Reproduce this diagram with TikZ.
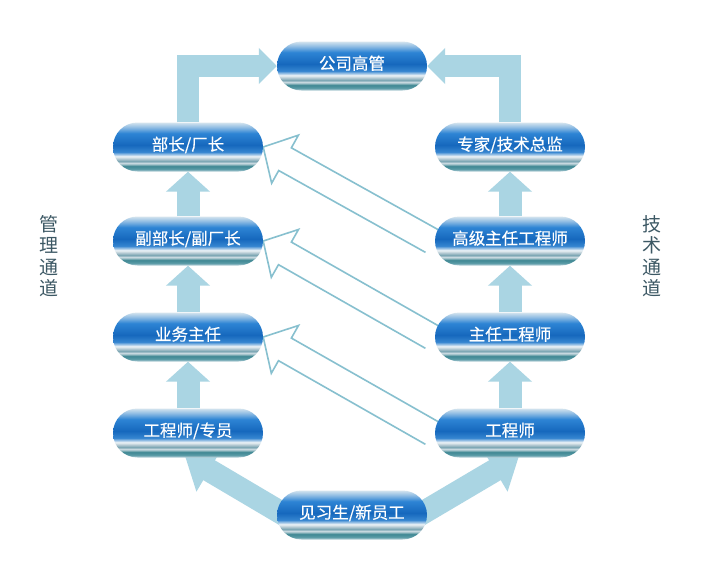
\documentclass[tikz,border=0pt]{standalone}
\usepackage{fontspec}
\newfontfamily\cjk{Noto Sans CJK SC}
\newfontfamily\cjkb[FakeBold=0.5]{Noto Sans CJK SC}
\usetikzlibrary{shapes.misc,arrows.meta,calc,backgrounds}
\definecolor{thickblue}{RGB}{170,213,227}
\definecolor{hollowblue}{RGB}{135,192,207}
\definecolor{sidetext}{RGB}{60,88,100}
\definecolor{pcA}{HTML}{C0D6DE}
\definecolor{pcB}{HTML}{5A9AA6}
\definecolor{pcC}{HTML}{3F8893}
\definecolor{pcD}{HTML}{CFDDE3}
\definecolor{pcE}{HTML}{7AA5B2}
\definecolor{pcF}{HTML}{B5CAD3}
\definecolor{pcG}{HTML}{EEF4F7}
\definecolor{pcH}{HTML}{3585D0}
\definecolor{pcI}{HTML}{1668BD}
\definecolor{pcJ}{HTML}{2D84D4}
\definecolor{pcK}{HTML}{8DBBE3}
\definecolor{pcL}{HTML}{D4E4EE}
\pgfdeclareverticalshading{pill}{100bp}{%
 color(0bp)=(pcA);
 color(25bp)=(pcA);
 color(27.5bp)=(pcB);
 color(30.5bp)=(pcC);
 color(33.5bp)=(pcD);
 color(35.5bp)=(pcE);
 color(38bp)=(pcF);
 color(40.5bp)=(pcG);
 color(45bp)=(pcH);
 color(52bp)=(pcI);
 color(64bp)=(pcJ);
 color(70bp)=(pcK);
 color(75bp)=(pcL);
 color(100bp)=(pcL)}
\tikzset{
  pillnode/.style={rounded rectangle, shading=pill, draw=none,
    minimum width=150pt, minimum height=49pt, inner sep=0pt,
    text height=12pt, text depth=5pt,
    text=white, font=\cjkb\fontsize{16.5}{18}\selectfont},
  sidelabel/.style={text=sidetext, align=center,
    font=\cjk\fontsize{19}{21.5}\selectfont},
  blockarrow/.style={draw=thickblue, line width=23pt,
    -{Triangle[width=43pt,length=20pt,fill=thickblue]}},
  cornerarrow/.style={draw=thickblue, line width=22pt, line join=miter,
    -{Triangle[width=35pt,length=18pt,fill=thickblue]}},
  diagarrow/.style={draw=thickblue, line width=23pt,
    -{Triangle[width=48pt,length=28pt,fill=thickblue]}},
  hollow/.style={draw=hollowblue, line width=1.6pt, line join=miter}
}
\newcommand\hollowarr[2]{%
  \path ($(#2)!25pt!(#1)$) coordinate (hb);
  \draw[hollow] ($(#1)!13pt!90:(#2)$) -- ($(hb)!13pt!90:(#2)$)
    -- ($(hb)!27.5pt!90:(#2)$) -- (#2) -- ($(hb)!27.5pt!-90:(#2)$)
    -- ($(hb)!13pt!-90:(#2)$) -- ($(#1)!13pt!-90:(#2)$);
}
\begin{document}
\begin{tikzpicture}[x=1pt,y=-1pt]
\useasboundingbox (0,0) rectangle (705,579);
% nodes
\node[pillnode] (gsgg)  at (352,66)  {公司高管};
\node[pillnode] (bz)    at (188,147) {部长/厂长};
\node[pillnode] (fbz)   at (188,241) {副部长/副厂长};
\node[pillnode] (ywzr)  at (188,337) {业务主任};
\node[pillnode] (gczy)  at (188,433) {工程师/专员};
\node[pillnode] (zj)    at (510,147) {专家/技术总监};
\node[pillnode] (gjzr)  at (510,241) {高级主任工程师};
\node[pillnode] (zrgcs) at (510,337) {主任工程师};
\node[pillnode] (gcs)   at (510,433) {工程师};
\node[pillnode] (jxs)   at (352,515) {见习生/新员工};
\node[sidelabel] (gltd) at (49,256)  {管\\理\\通\\道};
\node[sidelabel] (jstd) at (652,256) {技\\术\\通\\道};
% helper coordinates
\coordinate (ta1) at ([xshift=-3pt]gjzr.west);
\coordinate (ta2) at ([xshift=-3pt]zrgcs.west);
\coordinate (ta3) at ([xshift=-3pt]gcs.west);
\coordinate (dls) at (295,521);
\coordinate (dlt) at (185,456);
\coordinate (drs) at (409,521);
\coordinate (drt) at (519,456);
\begin{scope}[on background layer]
  \fill[white] (0,0) rectangle (705,579);
  \draw[cornerarrow] (bz.north) |- (gsgg.west);
  \draw[cornerarrow] (zj.north) |- (gsgg.east);
  \draw[blockarrow] (fbz.north) -- (bz.south);
  \draw[blockarrow] (ywzr.north) -- (fbz.south);
  \draw[blockarrow] (gczy.north) -- (ywzr.south);
  \draw[blockarrow] (gjzr.north) -- (zj.south);
  \draw[blockarrow] (zrgcs.north) -- (gjzr.south);
  \draw[blockarrow] (gcs.north) -- (zrgcs.south);
  \draw[diagarrow] (dls) -- (dlt);
  \draw[diagarrow] (drs) -- (drt);
  \hollowarr{ta1}{bz.east}
  \hollowarr{ta2}{fbz.east}
  \hollowarr{ta3}{ywzr.east}
\end{scope}
\end{tikzpicture}
\end{document}
